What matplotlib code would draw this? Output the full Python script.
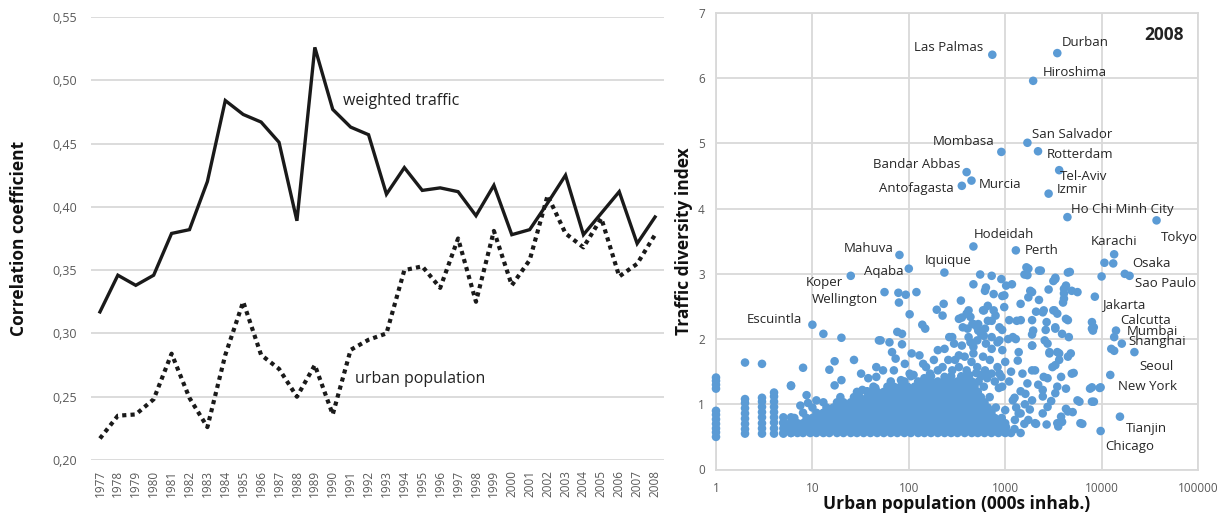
import matplotlib
matplotlib.use("Agg")
import matplotlib.pyplot as plt

plt.rcParams['font.family'] = ['Open Sans', 'DejaVu Sans']

# ---------------- left panel data ----------------
years = [1977, 1978, 1979, 1980, 1981, 1982, 1983, 1984, 1985, 1986, 1987,
         1988, 1989, 1990, 1991, 1992, 1993, 1994, 1995, 1996, 1997, 1998,
         1999, 2000, 2001, 2002, 2003, 2004, 2005, 2006, 2007, 2008]
weighted_traffic = [0.317, 0.346, 0.338, 0.346, 0.379, 0.382, 0.420, 0.484,
                    0.473, 0.467, 0.451, 0.389, 0.526, 0.477, 0.463, 0.457,
                    0.410, 0.431, 0.413, 0.415, 0.412, 0.393, 0.417, 0.378,
                    0.382, 0.403, 0.425, 0.378, 0.395, 0.412, 0.371, 0.392]
urban_population = [0.217, 0.235, 0.236, 0.248, 0.284, 0.249, 0.226, 0.283,
                    0.325, 0.283, 0.272, 0.250, 0.275, 0.236, 0.287, 0.295,
                    0.300, 0.350, 0.353, 0.336, 0.375, 0.325, 0.381, 0.338,
                    0.358, 0.409, 0.379, 0.368, 0.391, 0.345, 0.355, 0.378]
corr_ticks = [0.20, 0.25, 0.30, 0.35, 0.40, 0.45, 0.50, 0.55]
corr_tick_labels = ['0,20', '0,25', '0,30', '0,35', '0,40', '0,45', '0,50', '0,55']

# ---------------- right panel data ----------------
pop_ticks = [1, 10, 100, 1000, 10000, 100000]
pop_tick_labels = ['1', '10', '100', '1000', '10000', '100000']
tdi_ticks = [0, 1, 2, 3, 4, 5, 6, 7]

city_names = ['Las Palmas', 'Durban', 'Hiroshima', 'San Salvador', 'Mombasa',
              'Rotterdam', 'Bandar Abbas', 'Murcia', 'Antofagasta', 'Tel-Aviv',
              'Izmir', 'Ho Chi Minh City', 'Tokyo', 'Hodeidah', 'Perth',
              'Karachi', 'Mahuva', 'Iquique', 'Aqaba', 'Koper', 'Wellington',
              'Escuintla', 'Osaka', 'Sao Paulo', 'Jakarta', 'Calcutta',
              'Mumbai', 'Shanghai', 'Seoul', 'New York', 'Tianjin', 'Chicago']
city_pop = [735, 3470, 1950, 1700, 912, 2190, 398, 447, 355, 3630, 2820, 4420,
            37150, 468, 1290, 13490, 80, 234, 100, 25, 56, 10, 17400, 19500,
            8510, 14100, 13500, 16200, 21900, 12300, 15500, 9770]
city_tdi = [6.36, 6.385, 5.96, 5.01, 4.87, 4.88, 4.56, 4.43, 4.35, 4.59, 4.23,
            3.87, 3.82, 3.42, 3.36, 3.30, 3.29, 3.02, 3.08, 2.97, 2.72, 2.22,
            3.00, 2.97, 2.65, 2.13, 2.03, 1.93, 1.80, 1.45, 0.81, 0.59]

# label placement (offset in pixels from the dot, horizontal alignment)
label_dx = [-9, 4, 10, 5, -7, 9, -6, 7, -8, 1, 8, 4, 4, 0, 9, 0, -6, 4, -5,
            -8, -6, -10, 7, 5, 7, 4, 13, 7, 5, 8, 6, 5]
label_dy = [7, 11, 8, 8, 10, -3, 8, -4, -3, -6, 4, 8, -17, 12, 0, 13, 6, 12,
            -3, -7, -7, 5, 10, -8, -8, 10, 6, 2, -14, -12, -12, -15]
label_ha = ['right', 'left', 'left', 'left', 'right', 'left', 'right', 'left',
            'right', 'left', 'left', 'left', 'left', 'left', 'left', 'center',
            'right', 'center', 'right', 'right', 'right', 'right', 'left',
            'left', 'left', 'left', 'left', 'left', 'left', 'left', 'left',
            'left']

# small towns (pop 1-6 thousand): columns of points
col_pop = [1] * 11 + [2] * 9 + [3] * 9 + [4] * 9 + [5] * 4 + [6] * 5
col_tdi = [0.50, 0.57, 0.63, 0.70, 0.77, 0.84, 0.90, 1.24, 1.30, 1.36, 1.41,
           0.55, 0.62, 0.70, 0.78, 0.86, 0.94, 1.02, 1.08, 1.64,
           0.55, 0.63, 0.71, 0.80, 0.88, 0.96, 1.04, 1.10, 1.62,
           0.55, 0.63, 0.72, 0.80, 0.88, 0.96, 1.04, 1.12, 1.18,
           0.55, 0.63, 0.72, 0.80,
           0.56, 0.64, 0.73, 0.80, 1.29]

# dense core of the cloud, one list of populations per index level
core_056 = [5, 6, 7, 8, 9.5, 11, 13, 15, 18, 21, 25, 29, 34, 40, 47, 55, 65,
            76, 90, 105, 125, 145, 170, 200, 235, 275, 320, 380, 450, 520,
            610, 720, 850, 1000, 1150]
core_063 = [5.5, 6.5, 7.5, 8.7, 10, 12, 14, 16.5, 19.5, 23, 27, 31, 37, 43,
            51, 60, 70, 82, 97, 115, 135, 158, 185, 218, 255, 300, 350, 410,
            480, 560, 660, 780, 920]
core_071 = [5, 6, 7, 8, 9.5, 11, 13, 15, 18, 21, 25, 29, 34, 40, 47, 55, 65,
            76, 90, 105, 125, 145, 170, 200, 235, 275, 320, 380, 450, 520,
            610, 720, 850, 1000]
core_079 = [6.5, 8.7, 10, 12, 14, 16.5, 19.5, 23, 27, 31, 37, 43, 51, 60, 70,
            82, 97, 115, 135, 158, 185, 218, 255, 300, 350, 410, 480, 560,
            660, 780, 920]
core_087 = [8, 11, 13, 15, 18, 21, 25, 29, 34, 40, 47, 55, 65, 76, 90, 105,
            125, 145, 170, 200, 235, 275, 320, 380, 450, 520, 610, 720]
core_095 = [10, 14, 16.5, 19.5, 23, 27, 31, 37, 43, 51, 60, 70, 82, 97, 115,
            135, 158, 185, 218, 255, 300, 350, 410, 480, 560, 660, 800]
core_103 = [13, 18, 21, 25, 29, 34, 40, 47, 55, 65, 76, 90, 105, 125, 145,
            170, 200, 235, 275, 320, 380, 450, 520, 610]
core_111 = [19.5, 27, 31, 37, 43, 51, 60, 70, 82, 97, 115, 135, 158, 185, 218,
            255, 300, 350, 410, 480, 560, 690]
core_119 = [29, 40, 47, 55, 65, 76, 90, 105, 125, 145, 170, 200, 235, 275,
            320, 380, 450, 520]
core_127 = [43, 60, 70, 82, 97, 115, 135, 158, 185, 218, 255, 300, 350, 410,
            480, 600]
core_135 = [65, 90, 125, 145, 170, 200, 235, 275, 320, 380, 450, 530]
core_143 = [105, 170, 275, 350, 420, 560, 650]
core_levels = [0.56, 0.63, 0.71, 0.79, 0.87, 0.95, 1.03, 1.11, 1.19, 1.27,
               1.35, 1.43]

# scattered points above the core (population, index)
cloud_left = [(6, 1.28), (8, 1.56), (8.7, 1.14), (7.5, 0.98), (9, 1.02),
              (11, 1.06), (13, 2.08), (15, 1.53), (17, 1.66), (20, 2.02),
              (20, 1.37), (17, 1.29), (27, 1.68), (33, 1.22), (37, 1.20),
              (45, 1.25), (49, 1.98), (63, 1.95), (85, 1.92), (76, 2.11),
              (67, 1.80), (73, 1.70), (54, 1.52), (46, 1.57), (78, 2.71),
              (93, 2.68), (120, 2.72), (102, 2.38), (138, 2.22), (148, 2.16),
              (195, 2.45), (224, 2.36), (230, 2.54), (107, 1.78), (129, 1.75),
              (112, 1.45), (200, 1.83), (235, 1.85), (32, 1.47), (38, 1.40),
              (46, 1.42), (70, 1.52), (91, 1.62), (102, 1.47), (141, 1.62),
              (166, 1.47), (200, 1.52), (145, 1.40), (235, 1.42), (83, 1.37),
              (182, 1.68), (151, 1.57), (224, 1.57), (257, 1.68), (51, 1.98),
              (85, 2.08), (79, 2.56)]
cloud_mid = [(302, 1.68), (331, 1.57), (380, 1.73), (398, 1.52), (447, 1.65),
             (513, 1.57), (589, 1.73), (617, 1.52), (692, 1.68), (724, 1.47),
             (832, 1.57), (912, 1.42), (631, 1.93), (724, 1.85), (832, 1.95),
             (933, 1.83), (513, 1.98), (617, 2.16), (468, 1.78), (295, 1.93),
             (398, 2.39), (468, 2.23), (282, 1.52), (331, 1.75), (355, 1.90),
             (331, 2.31), (363, 2.18), (407, 2.16), (417, 2.03), (436, 2.34),
             (468, 2.84), (436, 1.95), (468, 1.88), (513, 2.18), (562, 2.08),
             (550, 2.99), (631, 2.79), (589, 2.44), (661, 2.28), (724, 2.97),
             (759, 2.69), (794, 2.36), (871, 2.18), (912, 2.92), (933, 2.66),
             (977, 2.49), (263, 2.03), (347, 2.59), (417, 2.44), (603, 2.44),
             (660, 2.51), (759, 2.44), (525, 2.23), (457, 2.23), (525, 2.13),
             (600, 2.05), (724, 2.28), (724, 2.03), (282, 2.03), (617, 2.74),
             (355, 2.33), (560, 1.45), (650, 1.40), (780, 1.35), (860, 1.25),
             (500, 1.48), (420, 1.45)]
cloud_right = [(1023, 2.82), (1175, 2.84), (1072, 2.00), (1288, 2.00),
               (1445, 2.54), (1318, 2.28), (1585, 2.99), (1660, 3.10),
               (1738, 2.64), (1820, 2.74), (1950, 2.13), (1905, 1.90),
               (2240, 3.05), (2240, 2.60), (2455, 2.41), (2570, 1.98),
               (2690, 2.26), (3160, 2.89), (3310, 2.94), (3160, 2.44),
               (3310, 2.18), (3470, 1.80), (3980, 2.56), (4070, 2.77),
               (4270, 2.82), (4470, 3.02), (4900, 2.74), (5620, 2.72),
               (4570, 2.03), (4270, 2.31), (4470, 1.73), (2880, 1.78),
               (3310, 1.60), (2040, 1.52), (2750, 1.40), (3800, 1.42),
               (4900, 1.47), (4270, 1.24), (3310, 1.17), (2455, 1.12),
               (4470, 0.89), (3800, 0.81), (5890, 1.04), (6030, 0.71),
               (3470, 0.71), (2690, 0.69), (2040, 0.71), (1445, 0.86),
               (1738, 0.76), (1445, 0.56), (7590, 1.24), (7940, 1.04),
               (8300, 2.18), (8130, 2.13), (9550, 1.25), (1740, 3.08),
               (2340, 3.05), (4680, 3.03), (1700, 2.98), (3310, 2.92),
               (10700, 3.17), (13200, 3.16), (10000, 2.96), (7940, 2.26),
               (7940, 2.16), (12600, 1.85), (13500, 1.82), (7940, 1.26),
               (9770, 1.26), (8320, 1.04), (4070, 2.70), (4070, 2.62),
               (2820, 2.76), (1900, 2.72), (980, 2.67), (1100, 2.29),
               (1450, 2.29), (1900, 2.29), (2090, 2.42), (2510, 2.44),
               (3240, 2.44), (3470, 2.39), (4470, 2.29), (2630, 2.14),
               (3310, 2.16), (3890, 2.08), (1900, 2.07), (1200, 2.03),
               (930, 2.14), (870, 1.98), (1900, 1.90), (2750, 1.93),
               (4790, 1.78), (1380, 1.80), (1000, 1.65), (1350, 1.67),
               (2880, 1.80), (3630, 1.78), (3630, 1.68), (3090, 1.57),
               (1900, 1.52), (1510, 1.47), (5130, 1.48), (2510, 1.42),
               (3470, 1.27), (2450, 1.22), (1620, 1.16), (1200, 1.06),
               (1900, 1.06), (2750, 0.96), (4270, 0.93), (5010, 0.88),
               (5620, 1.06), (6310, 0.70), (3890, 0.73), (3550, 0.66),
               (2450, 0.86), (2090, 0.70), (1580, 0.70), (1260, 0.76),
               (1020, 0.65), (1000, 0.91), (1380, 0.86), (930, 1.27),
               (870, 1.47), (1445, 1.20), (1100, 1.35), (1250, 1.10),
               (1600, 1.00), (1300, 0.95), (1150, 1.50), (1700, 1.32),
               (2200, 1.30), (1250, 0.62), (1800, 0.92), (3000, 1.05)]

# ---------------- figure ----------------
W, H = 1228, 520
fig = plt.figure(figsize=(W / 100, H / 100), dpi=100)
fig.patch.set_facecolor('white')

grid_c = '#d9d9d9'
tick_c = '#595959'

# left panel
ax1 = fig.add_axes([91 / W, 1 - 460 / H, (664 - 91) / W, (460 - 17) / H])
ax1.plot(years, weighted_traffic, color='#1a1a1a', lw=2.4,
         solid_joinstyle='miter', zorder=3)
ax1.plot(years, urban_population, color='#1a1a1a', lw=3.0,
         linestyle=(0, (1.0, 1.0)), dash_capstyle='butt', zorder=3)
ax1.set_xlim(1976.5, 2008.5)
ax1.set_ylim(0.20, 0.55)
ax1.set_yticks(corr_ticks)
ax1.set_yticklabels(corr_tick_labels)
ax1.set_xticks(years)
ax1.set_xticklabels([str(y) for y in years], rotation=90)
ax1.tick_params(axis='y', length=0, colors=tick_c, labelsize=9, pad=10)
ax1.tick_params(axis='x', length=0, colors=tick_c, labelsize=8.5, pad=7)
for s in ax1.spines.values():
    s.set_visible(False)
ax1.grid(True, axis='y', color=grid_c, lw=1.3)
ax1.set_axisbelow(True)
ax1.set_ylabel('Correlation coefficient', fontsize=12.5, fontweight='bold',
               color='#111111')
ax1.yaxis.set_label_coords(-(91 - 28) / (664 - 91), 0.5)
ax1.text(1990.6, 0.4835, 'weighted traffic', fontsize=11.5, color='#222222',
         ha='left', va='center')
ax1.text(1991.25, 0.264, 'urban population', fontsize=11.5, color='#222222',
         ha='left', va='center')

# right panel
ax2 = fig.add_axes([716 / W, 1 - 469.5 / H, (1198 - 716) / W, (469.5 - 13) / H])
ax2.set_xscale('log')
ax2.set_xlim(1, 100000)
ax2.set_ylim(0, 7)

dot_c = '#5B9BD5'
dot_s = 38

all_pop = list(col_pop)
all_tdi = list(col_tdi)
core_rows = [core_056, core_063, core_071, core_079, core_087, core_095,
             core_103, core_111, core_119, core_127, core_135, core_143]
for lvl, row in zip(core_levels, core_rows):
    all_pop += row
    all_tdi += [lvl] * len(row)
for group in (cloud_left, cloud_mid, cloud_right):
    all_pop += [p for p, _ in group]
    all_tdi += [t for _, t in group]
all_pop += city_pop
all_tdi += city_tdi

ax2.scatter(all_pop, all_tdi, s=dot_s, color=dot_c, edgecolors='none',
            zorder=3, clip_on=False)

for name, p, t, dx, dy, ha in zip(city_names, city_pop, city_tdi,
                                   label_dx, label_dy, label_ha):
    ax2.annotate(name, (p, t), xytext=(dx, dy), textcoords='offset pixels',
                 ha=ha, va='center', fontsize=9.5, color='#262626', zorder=4)

ax2.set_xticks(pop_ticks)
ax2.set_xticklabels(pop_tick_labels)
ax2.minorticks_off()
ax2.set_yticks(tdi_ticks)
ax2.tick_params(axis='x', length=0, colors=tick_c, labelsize=8.5, pad=9)
ax2.tick_params(axis='y', length=0, colors=tick_c, labelsize=8.5, pad=8)
for s in ax2.spines.values():
    s.set_color(grid_c)
    s.set_linewidth(1.3)
ax2.grid(True, which='major', color=grid_c, lw=1.3)
ax2.set_axisbelow(True)
ax2.set_xlabel('Urban population (000s inhab.)', fontsize=12.5,
               fontweight='bold', color='#111111')
ax2.xaxis.set_label_coords(0.5, -(495 - 469.5) / (469.5 - 13))
ax2.set_ylabel('Traffic diversity index', fontsize=12.5, fontweight='bold',
               color='#111111')
ax2.yaxis.set_label_coords(-(716 - 693) / (1198 - 716), 0.5)
ax2.text(0.93, 0.952, '2008', transform=ax2.transAxes, fontsize=12.5,
         fontweight='bold', ha='center', va='center', color='#222222')

fig.savefig('out.png', dpi=100, facecolor='white')
